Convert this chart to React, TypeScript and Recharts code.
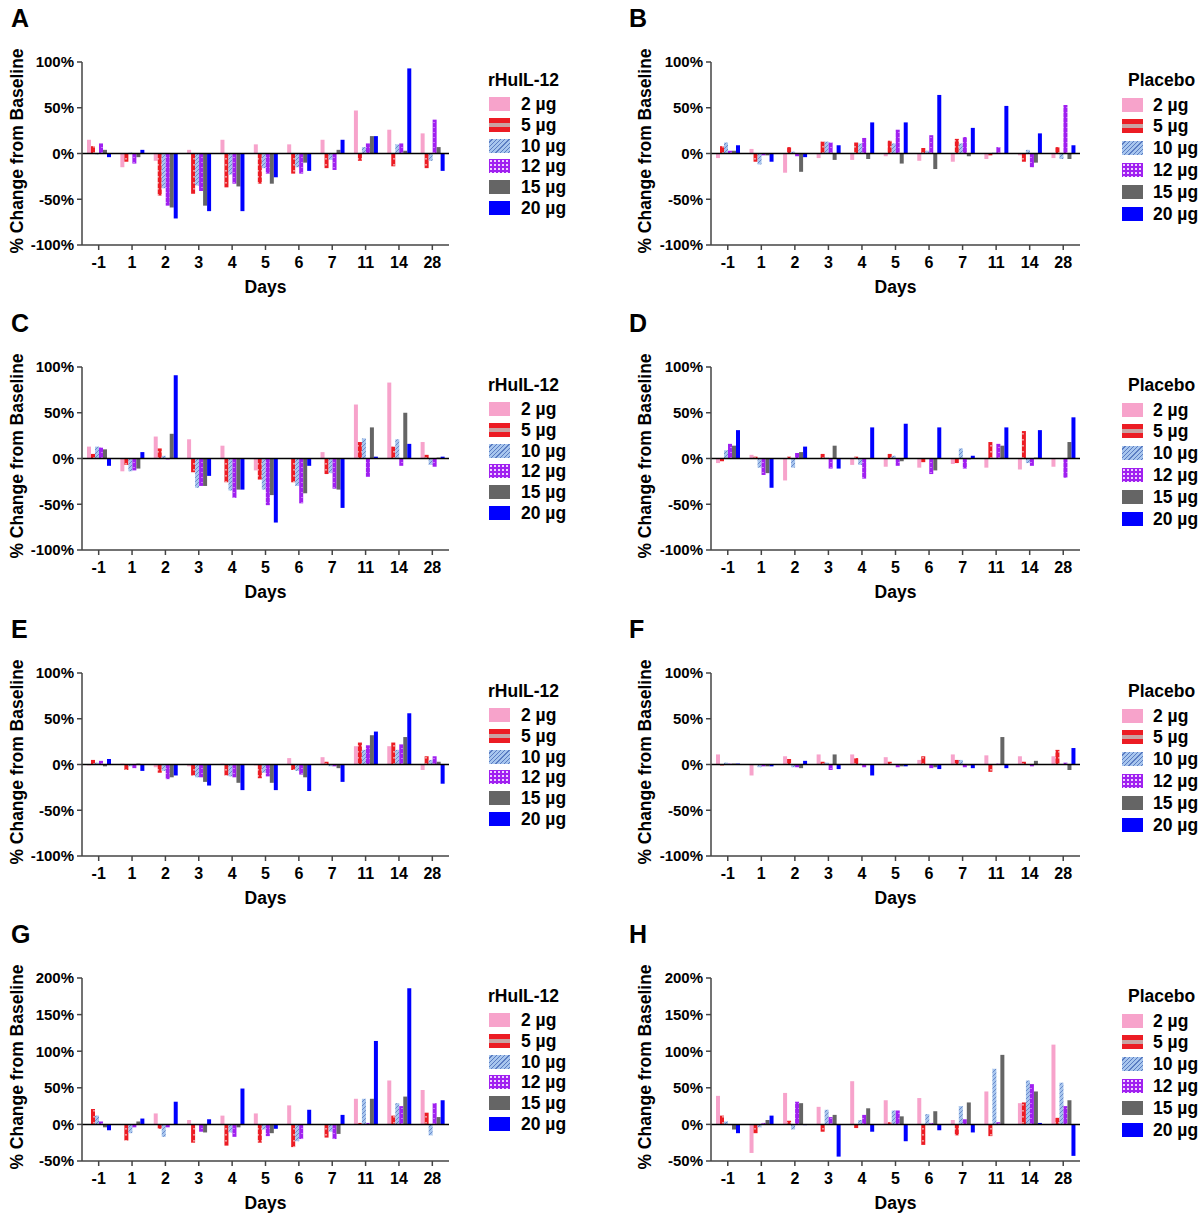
import React from "react";
import { Bar, BarChart, ReferenceLine, XAxis, YAxis } from "recharts";

const FONT = '"Liberation Sans", Arial, Helvetica, sans-serif';

const days = ["-1", "1", "2", "3", "4", "5", "6", "7", "11", "14", "28"];
const doses = ["2 µg", "5 µg", "10 µg", "12 µg", "15 µg", "20 µg"];
const keys = ["d2", "d5", "d10", "d12", "d15", "d20"];

const ticksPct = [-100, -50, 0, 50, 100];
const ticksWide = [-50, 0, 50, 100, 150, 200];

// rows: 2, 5, 10, 12, 15, 20 µg ; columns follow `days`
const panelA = [
  [15, -15, -8, 4, 15, 10, 10, 15, 47, 26, 22],
  [8, -9, -46, -44, -37, -33, -22, -16, -8, -14, -16],
  [-1, 1, -38, -35, -23, -16, -15, -7, 7, 10, -8],
  [11, -11, -57, -41, -33, -22, -22, -18, 11, 11, 37],
  [4, -4, -59, -57, -36, -33, -10, 4, 19, 3, 7],
  [-4, 4, -71, -63, -63, -26, -19, 15, 19, 93, -19],
];
const panelB = [
  [-5, 5, -21, -5, -7, -3, -8, -9, -6, -2, -5],
  [8, -9, 7, 13, 12, 14, 6, 16, -2, -9, 7],
  [12, -12, 2, 13, 11, 11, 3, 11, 1, 4, -6],
  [3, -2, -3, 12, 17, 26, 20, 18, 7, -15, 53],
  [3, -2, -20, -7, -6, -11, -17, -3, 0, -10, -6],
  [9, -9, -4, 9, 34, 34, 64, 28, 52, 22, 9],
];
const panelC = [
  [13, -14, 24, 21, 14, -13, 0, 7, 59, 83, 18],
  [5, -7, 11, -15, -26, -23, -26, -17, 18, 13, 4],
  [13, -14, 3, -32, -35, -34, -30, -16, 22, 21, -7],
  [12, -13, -1, -30, -43, -51, -49, -33, -20, -8, -9],
  [10, -11, 27, -30, -34, -40, -38, -34, 34, 50, 1],
  [-8, 7, 91, -19, -34, -70, -8, -54, 2, 16, 2],
];
const panelD = [
  [-5, 4, -24, 0, -7, -9, -10, -6, -10, -12, -9],
  [-3, 2, 2, 5, 2, 5, -4, -5, 18, 30, 0],
  [9, -10, -10, 1, -7, 3, 0, 11, 0, -5, 0],
  [16, -18, 6, -11, -22, -8, -17, -11, 16, -8, -21],
  [14, -16, 7, 14, 0, -3, -13, -1, 14, 1, 18],
  [31, -32, 13, -11, 34, 38, 34, 3, 34, 31, 45],
];
const panelE = [
  [-1, 1, -3, -2, 1, -1, 7, 8, 20, 20, -6],
  [5, -6, -9, -12, -12, -15, -6, 3, 24, 24, 9],
  [2, -2, -7, -14, -13, -9, -7, -2, 16, 16, 5],
  [4, -4, -16, -14, -14, -13, -11, -2, 21, 22, 9],
  [-2, 1, -14, -19, -20, -20, -14, -4, 32, 30, 3],
  [6, -7, -12, -23, -28, -28, -29, -19, 36, 56, -21],
];
const panelF = [
  [11, -12, 9, 11, 11, 8, 5, 11, 10, 9, 9],
  [-1, 0, 6, 3, 7, 3, 9, 5, -8, 3, 16],
  [2, -3, -3, 2, 1, 0, 0, 5, 0, 0, 0],
  [1, -2, -3, -6, -3, -3, -4, -3, 1, -2, 2],
  [1, -2, -4, 11, 0, -2, -3, -1, 30, 4, -6],
  [1, -2, 4, -5, -12, -2, -5, -4, -4, 0, 18],
];
const panelG = [
  [0, 0, 15, 6, 12, 15, 26, 0, 35, 60, 47],
  [21, -22, -6, -25, -29, -25, -31, -18, 2, 12, 16],
  [12, -12, -17, 0, -11, -7, -23, -10, 35, 29, -15],
  [4, -4, -4, -10, -17, -16, -20, -20, 2, 25, 29],
  [-4, 4, 0, -11, -4, -12, 0, -13, 35, 38, 10],
  [-8, 8, 31, 7, 49, -6, 20, 13, 114, 186, 33],
];
const panelH = [
  [39, -39, 43, 24, 59, 33, 36, 6, 45, 29, 109],
  [12, -12, 5, -10, -5, 3, -28, -15, -16, 30, 9],
  [4, -4, -7, 20, 6, 19, 14, 25, 76, 60, 57],
  [-1, 2, 31, 10, 13, 19, 2, 7, 3, 55, 25],
  [-7, 6, 29, 13, 22, 11, 18, 30, 95, 45, 33],
  [-12, 12, -1, -44, -10, -23, -8, -11, 0, 2, -43],
];

const legendSwatch = [
  { background: "#f7a3cb" },
  { background: "linear-gradient(#ec1c24 0 38%, #c9a3a3 38% 62%, #ec1c24 62% 100%)" },
  {
    background:
      "repeating-linear-gradient(135deg, #a8c6ee 0 2px, #5a7cc2 2px 3px)",
  },
  {
    backgroundColor: "#a020f0",
    backgroundImage: "radial-gradient(#efd2ff 0.8px, transparent 1.1px)",
    backgroundSize: "4px 4px",
  },
  { background: "#656565" },
  { background: "#0000ff" },
];

function Patterns({ id }: { id: string }) {
  return (
    <defs>
      <pattern id={`${id}-red`} patternUnits="userSpaceOnUse" width="4" height="6">
        <rect width="4" height="6" fill="#ec1c24" />
        <rect x="1.2" y="2" width="1.6" height="1.6" fill="#f3b1b1" />
      </pattern>
      <pattern id={`${id}-hatch`} patternUnits="userSpaceOnUse" width="4" height="4">
        <rect width="4" height="4" fill="#a8c6ee" />
        <path d="M-1,1 l2,-2 M0,4 l4,-4 M3,5 l2,-2" stroke="#5a7cc2" strokeWidth="0.8" />
      </pattern>
      <pattern id={`${id}-dots`} patternUnits="userSpaceOnUse" width="4" height="5">
        <rect width="4" height="5" fill="#a020f0" />
        <rect x="1.5" y="2" width="1" height="1" fill="#ecc8ff" />
      </pattern>
    </defs>
  );
}

type PanelProps = {
  letter: string;
  rows: number[][];
  left: number;
  top: number;
  group: string;
  ticks: number[];
};

function Panel({ letter, rows, left, top, group, ticks }: PanelProps) {
  const data = days.map((d, i) => {
    const o: Record<string, string | number> = { day: d };
    keys.forEach((k, j) => (o[k] = rows[j][i]));
    return o;
  });
  const id = `p${letter}`;
  const right = left > 300;
  const fills = [
    "#f7a3cb",
    `url(#${id}-red)`,
    `url(#${id}-hatch)`,
    `url(#${id}-dots)`,
    "#656565",
    "#0000ff",
  ];
  const text = { fontFamily: FONT, fontWeight: 700, color: "#000" } as const;
  const legX = right ? 493 : 489;
  const legTextX = right ? 524 : 521;
  const legTitleX = right ? 499 : 488;
  const legTop = right ? 97.5 : 97;
  const legStep = right ? 21.8 : 20.8;

  return (
    <div style={{ position: "absolute", left, top, width: 600, height: 305 }}>
      <div style={{ ...text, position: "absolute", left: right ? 0 : 11, top: 4, fontSize: 25, lineHeight: "28px" }}>
        {letter}
      </div>
      <div
        style={{
          ...text,
          position: "absolute",
          left: (right ? 16 : 17) - 130,
          top: 151 - 11,
          width: 260,
          height: 22,
          lineHeight: "22px",
          fontSize: 17.5,
          textAlign: "center",
          whiteSpace: "nowrap",
          transform: "rotate(-90deg)",
        }}
      >
        % Change from Baseline
      </div>
      <div style={{ position: "absolute", left: 0, top: 0 }}>
        <BarChart
          width={460}
          height={300}
          data={data}
          margin={{ top: 62, right: right ? 9 : 11, bottom: 5, left: 0 }}
          barGap={0}
        >
          <Patterns id={id} />
          <XAxis
            dataKey="day"
            interval={0}
            height={50}
            stroke="#444"
            strokeWidth={1.5}
            tickSize={5}
            tickMargin={7}
            tick={{ fontSize: 16, fontWeight: 700, fill: "#000", fontFamily: FONT }}
          />
          <YAxis
            width={82}
            domain={[ticks[0], ticks[ticks.length - 1]]}
            ticks={ticks}
            interval={0}
            allowDataOverflow
            stroke="#444"
            strokeWidth={1.5}
            tickSize={5}
            tickMargin={3}
            tickFormatter={(v: number) => `${v}%`}
            tick={{ fontSize: 15, fontWeight: 700, fill: "#000", fontFamily: FONT }}
          />
          {keys.map((k, j) => (
            <Bar key={k} dataKey={k} fill={fills[j]} barSize={4} isAnimationActive={false} />
          ))}
          <ReferenceLine y={0} stroke="#000" strokeWidth={1.5} />
        </BarChart>
      </div>
      <div
        style={{
          ...text,
          position: "absolute",
          left: (right ? 266.5 : 265.5) - 40,
          top: 287 - 11,
          width: 80,
          lineHeight: "22px",
          fontSize: 17.5,
          textAlign: "center",
        }}
      >
        Days
      </div>
      <div style={{ ...text, position: "absolute", left: legTitleX, top: 80 - 11, lineHeight: "22px", fontSize: 17.5 }}>
        {group}
      </div>
      {doses.map((d, j) => (
        <React.Fragment key={d}>
          <div
            style={{
              position: "absolute",
              left: legX,
              top: legTop + j * legStep,
              width: 20.5,
              height: 14,
              ...legendSwatch[j],
            }}
          />
          <div
            style={{
              ...text,
              position: "absolute",
              left: legTextX,
              top: legTop + j * legStep + 7 - 11,
              lineHeight: "22px",
              fontSize: 17.5,
              whiteSpace: "nowrap",
            }}
          >
            {d}
          </div>
        </React.Fragment>
      ))}
    </div>
  );
}

export default function App() {
  return (
    <div style={{ position: "absolute", left: 0, top: 0, width: 1200, height: 1215, background: "#fff", overflow: "hidden" }}>
      <Panel letter="A" rows={panelA} left={0} top={0} group="rHuIL-12" ticks={ticksPct} />
      <Panel letter="B" rows={panelB} left={629} top={0} group="Placebo" ticks={ticksPct} />
      <Panel letter="C" rows={panelC} left={0} top={305} group="rHuIL-12" ticks={ticksPct} />
      <Panel letter="D" rows={panelD} left={629} top={305} group="Placebo" ticks={ticksPct} />
      <Panel letter="E" rows={panelE} left={0} top={611} group="rHuIL-12" ticks={ticksPct} />
      <Panel letter="F" rows={panelF} left={629} top={611} group="Placebo" ticks={ticksPct} />
      <Panel letter="G" rows={panelG} left={0} top={916} group="rHuIL-12" ticks={ticksWide} />
      <Panel letter="H" rows={panelH} left={629} top={916} group="Placebo" ticks={ticksWide} />
    </div>
  );
}
